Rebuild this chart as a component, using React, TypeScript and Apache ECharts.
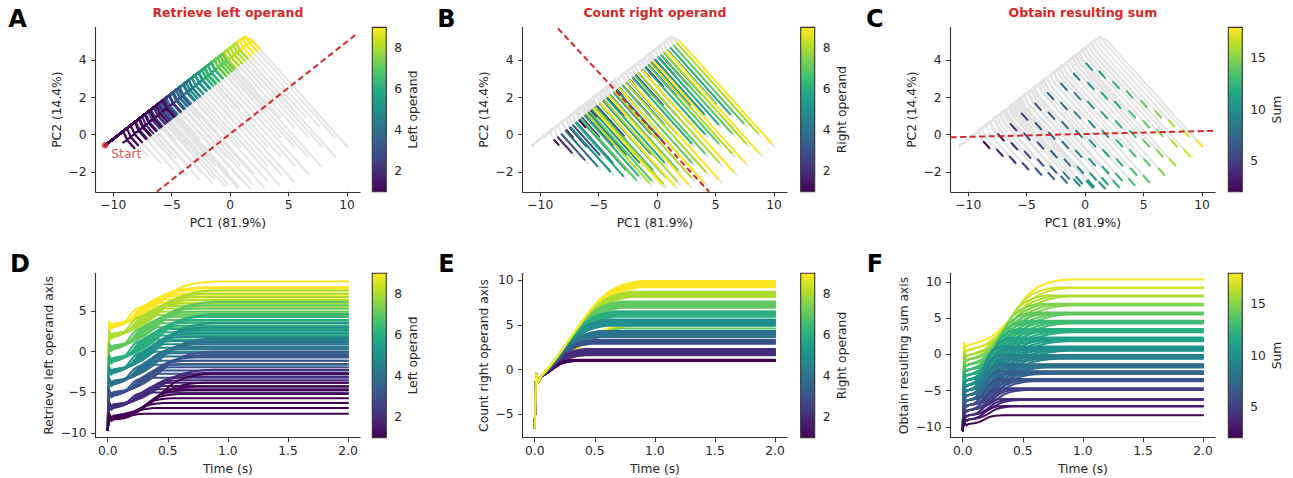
import React, { useEffect, useRef } from "react";
import * as echarts from "echarts";

// ---------------- styling constants ----------------
const FONT = "DejaVu Sans";
const INK = "#262626";
const SPINE = "#333333";
const RED = "#d62728";
const GREY = "#e4e4e4";
const VIRIDIS = ["#440154", "#482475", "#414487", "#355f8d", "#2a788e", "#21918c", "#22a884", "#44bf70", "#7ad151", "#bddf26", "#fde725"];

// ---------------- tick labels / categories ----------------
const OPERANDS = [1, 2, 3, 4, 5, 6, 7, 8, 9];
const PC_X_TICKS = [-10, -5, 0, 5, 10];
const PC_Y_TICKS = [-2, 0, 2, 4];
const TIME_TICKS = [0, 0.5, 1, 1.5, 2];
const D_TICKS = [-10, -5, 0, 5];
const E_TICKS = [-5, 0, 5, 10];
const F_TICKS = [-10, -5, 0, 5, 10];
const OPERAND_TICKS = [2, 4, 6, 8];
const SUM_TICKS = [5, 10, 15];

// ---------------- PCA panels (A–C): read anchors ----------------
const START = [-10.7, -0.57];
const APEX = [1.25, 5.28];
const ONSET = [[-8.77, -0.28], [-0.09, 4.05]]; // line along which counting starts
const COUNT_SLOPE = -0.7; // direction of the counting (right-operand) phase
const AXIS_A = [[-6.28, -3.07], [10.91, 5.46]];
const AXIS_B = [[-8.48, 5.72], [4.45, -3.07]];
const AXIS_C = [[-11.5, -0.14], [11.1, 0.21]];

// trajectory end points (centre of final dash in panel C), rows = left operand 1..9, cols = right operand 1..9
const END_X = [
  [-8.43, -7.3, -6.2, -5.1, -4.0, -2.9, -1.8, -0.7, 0.4],
  [-7.2, -6.05, -4.92, -3.8, -2.7, -1.6, -0.5, 0.5, 1.45],
  [-6.13, -4.97, -3.82, -2.67, -1.52, -0.4, 0.68, 1.7, 2.65],
  [-5.18, -4.0, -2.85, -1.7, -0.55, 0.6, 1.75, 2.9, 4.0],
  [-4.03, -2.88, -1.72, -0.52, 0.63, 1.79, 2.94, 4.15, 5.24],
  [-2.96, -1.81, -0.66, 0.58, 1.73, 2.94, 4.08, 5.3, 6.53],
  [-1.81, -0.66, 0.49, 1.64, 2.87, 4.08, 5.24, 6.39, 7.49],
  [-0.72, 0.49, 1.64, 2.79, 4.03, 5.24, 6.39, 7.6, 8.75],
  [0.35, 1.45, 2.65, 3.8, 5.04, 6.25, 7.4, 8.62, 9.78],
];
const END_Y = [
  [-0.55, -0.97, -1.35, -1.7, -1.98, -2.22, -2.42, -2.58, -2.68],
  [-0.14, -0.62, -1.08, -1.5, -1.88, -2.2, -2.45, -2.62, -2.72],
  [0.4, -0.1, -0.58, -1.05, -1.5, -1.9, -2.25, -2.5, -2.65],
  [0.97, 0.46, -0.05, -0.55, -1.03, -1.48, -1.9, -2.28, -2.55],
  [1.51, 1.02, 0.52, 0.04, -0.46, -1.0, -1.49, -1.99, -2.38],
  [2.08, 1.54, 1.06, 0.56, 0.04, -0.46, -1.0, -1.49, -1.99],
  [2.58, 2.08, 1.6, 1.06, 0.56, 0.04, -0.46, -1.0, -1.49],
  [3.12, 2.62, 2.1, 1.6, 1.1, 0.56, 0.08, -0.46, -1.0],
  [3.66, 3.24, 2.67, 2.17, 1.65, 1.1, 0.61, 0.08, -0.46],
];
const HOOK_DX = 0.35; // ridge point sits this far (PC1) before the counting onset
const CURL = [-0.35, -0.12]; // small curl below the onset point seen in panel A
const TOOTH = 0.75;   // start of counting shown in panel A
const TAIL = 0.3;     // half-length of the final dash

// ---------------- time panels (D–F): read values ----------------
const SPIKE_T = [0, 0.012, 0.03, 0.05];
const T_FINAL = 2.0;
const T_END = [0.33, 0.42, 0.48, 0.54, 0.6, 0.66, 0.72, 0.8, 0.88]; // settle time by right operand
const PROF_TAU = [0, 0.1, 0.2, 0.3, 0.4, 0.5, 0.6, 0.7, 0.8, 0.9, 1.0];
const PROF_DF = [0, 0.04, 0.1, 0.21, 0.37, 0.58, 0.78, 0.89, 0.95, 0.985, 1];
const PROF_E = [0, 0.12, 0.26, 0.41, 0.56, 0.7, 0.82, 0.9, 0.95, 0.98, 1];

const D_T0 = -9.6;
const D_START_A = [-8.3, -6.9, -5.4, -4.0, -2.6, -1.2, 0.3, 1.8, 3.0];
const D_START_B = [0, 0.06, 0.11, 0.17, 0.22, 0.27, 0.33, 0.38, 0.45];
const D_FINAL = [
  [-7.6, -6.9, -6.3, -5.7, -5.2, -4.7, -4.3, -3.8, -2.7],
  [-5.0, -4.6, -4.2, -3.8, -3.5, -3.1, -2.8, -2.6, -2.2],
  [-3.2, -2.7, -2.3, -1.9, -1.5, -1.1, -0.7, -0.4, 0.0],
  [-1.6, -1.1, -0.6, -0.2, 0.3, 0.6, 0.9, 1.2, 1.6],
  [0.0, 0.5, 0.9, 1.3, 1.8, 2.2, 2.6, 3.0, 3.5],
  [1.5, 2.0, 2.4, 2.8, 3.2, 3.6, 3.9, 4.3, 4.6],
  [3.0, 3.5, 3.9, 4.3, 4.6, 4.9, 5.3, 5.7, 6.1],
  [4.5, 4.9, 5.3, 5.6, 5.9, 6.3, 6.7, 7.1, 7.5],
  [5.6, 6.0, 6.4, 6.8, 7.1, 7.5, 7.8, 7.9, 8.6],
];

const E_T0 = -6.5;
const E_START = -0.8;
const E_FINAL = [
  [0.95, 1.6, 2.9, 3.6, 4.0, 4.3, 4.6, 4.9, 5.3],
  [0.97, 1.7, 2.95, 3.7, 4.9, 5.9, 6.9, 8.1, 9.2],
  [0.98, 1.8, 3.0, 3.8, 5.0, 6.0, 7.0, 8.2, 9.3],
  [1.0, 1.9, 3.05, 3.9, 5.1, 6.1, 7.1, 8.3, 9.4],
  [1.02, 2.0, 3.1, 4.0, 5.2, 6.2, 7.2, 8.4, 9.5],
  [1.04, 2.1, 3.15, 4.1, 5.3, 6.3, 7.3, 8.5, 9.6],
  [1.06, 2.15, 3.2, 4.2, 5.4, 6.4, 7.4, 8.6, 9.7],
  [1.08, 2.2, 3.25, 4.25, 5.5, 6.45, 7.5, 8.65, 9.8],
  [1.1, 2.3, 3.3, 4.3, 5.6, 6.5, 7.6, 8.7, 9.9],
];

const F_T0 = -10.5;
// indexed by sum 2..18
const F_START_SUM = [-9.6, -9.0, -8.4, -7.7, -7.0, -6.3, -5.6, -4.9, -4.2, -3.5, -2.8, -2.1, -1.4, -0.7, -0.1, 0.6, 1.3];
const F_SUM_LEVEL = [-8.1, -6.9, -6.0, -4.6, -3.4, -2.4, -1.5, -0.3, 0.8, 2.05, 3.2, 4.35, 5.5, 6.7, 7.85, 8.95, 10.05];
const F_OFF_A = [-0.3, -0.22, -0.15, -0.07, 0, 0.07, 0.15, 0.22, 0.3];

// ---------------- helpers ----------------
function hexRgb(h: string) {
  return [parseInt(h.slice(1, 3), 16), parseInt(h.slice(3, 5), 16), parseInt(h.slice(5, 7), 16)];
}
function viridis(t: number): string {
  const x = Math.max(0, Math.min(1, t)) * (VIRIDIS.length - 1);
  const i = Math.min(Math.floor(x), VIRIDIS.length - 2);
  const f = x - i;
  const c0 = hexRgb(VIRIDIS[i]);
  const c1 = hexRgb(VIRIDIS[i + 1]);
  const c = c0.map((v, k) => Math.round(v + (c1[k] - v) * f));
  return `rgb(${c[0]},${c[1]},${c[2]})`;
}
const opColor = (v: number) => viridis((v - 1) / 8);
const sumColor = (s: number) => viridis((s - 2) / 16);
const minus = (v: number) => String(v).replace("-", "\u2212");

// ---------------- trajectories ----------------
const ridgeSlope = (APEX[1] - START[1]) / (APEX[0] - START[0]);
const onsetSlope = (ONSET[1][1] - ONSET[0][1]) / (ONSET[1][0] - ONSET[0][0]);
const dirNorm = Math.hypot(1, COUNT_SLOPE);
const DIR = [1 / dirNorm, COUNT_SLOPE / dirNorm];
const along = (p: number[], k: number) => [p[0] + k * DIR[0], p[1] + k * DIR[1]];

type Traj = { a: number; b: number; i: number; j: number; Q: number[]; K: number[]; R: number[]; F: number[] };
const TRAJ: Traj[] = [];
OPERANDS.forEach((a, i) =>
  OPERANDS.forEach((b, j) => {
    const F = [END_X[i][j], END_Y[i][j]];
    const c = F[1] - COUNT_SLOPE * F[0];
    const rx = (c - ONSET[0][1] + onsetSlope * ONSET[0][0]) / (onsetSlope - COUNT_SLOPE);
    const R = [rx, c + COUNT_SLOPE * rx];
    const qx = Math.min(rx - HOOK_DX, APEX[0]);
    const Q = [qx, START[1] + ridgeSlope * (qx - START[0])];
    const K = [R[0] + CURL[0], R[1] + CURL[1]];
    TRAJ.push({ a, b, i, j, Q, K, R, F });
  })
);

function curve(v0: number, s: number, over: number, dip: number, end: number, tEnd: number, prof: number[]) {
  const pts = [
    [SPIKE_T[0], v0],
    [SPIKE_T[1], s + over],
    [SPIKE_T[2], s + dip],
    [SPIKE_T[3], s],
  ];
  for (let k = 1; k < PROF_TAU.length; k++) {
    pts.push([SPIKE_T[3] + PROF_TAU[k] * (tEnd - SPIKE_T[3]), s + prof[k] * (end - s)]);
  }
  pts.push([T_FINAL, end]);
  return pts;
}

// ---------------- layout ----------------
const COL_L = [95.7, 522.7, 950.7];
const PLOT_W = 264.4;
const ROW_T = [27.4, 273.3];
const PLOT_H = 164.4;
const CB_L = [372.3, 800.7, 1228.3];
const CB_W = 14;

const PC_XLIM = [-11.5, 11.12];
const PC_YLIM = [-3.07, 5.77];
const T_LIM = [-0.1, 2.1];
const D_YLIM = [-10.55, 9.62];
const E_YLIM = [-7.6, 10.75];
const F_YLIM = [-11.5, 11.2];

function buildOption() {
  const grids: any[] = [];
  const xAxes: any[] = [];
  const yAxes: any[] = [];
  const series: any[] = [];

  const textStyle = { fontFamily: FONT, fontSize: 12.3, color: INK };
  const mainX = (lim: number[], ticks: number[], name: string, fmt: (v: number) => string, idx: number) => ({
    type: "value", gridIndex: idx, min: lim[0], max: lim[1], position: "bottom",
    name, nameLocation: "middle", nameGap: 25, nameTextStyle: textStyle,
    splitLine: { show: false },
    axisLine: { show: true, onZero: false, lineStyle: { color: SPINE, width: 1.1 } },
    axisTick: { show: true, customValues: ticks, length: 4.5, lineStyle: { color: SPINE, width: 1 } },
    axisLabel: { customValues: ticks, formatter: fmt, margin: 7, ...textStyle },
  });
  const mainY = (lim: number[], ticks: number[], name: string, gap: number, idx: number) => ({
    type: "value", gridIndex: idx, min: lim[0], max: lim[1], position: "left",
    name, nameLocation: "middle", nameGap: gap, nameRotate: 90, nameTextStyle: textStyle,
    splitLine: { show: false },
    axisLine: { show: true, onZero: false, lineStyle: { color: SPINE, width: 1.1 } },
    axisTick: { show: true, customValues: ticks, length: 4.5, lineStyle: { color: SPINE, width: 1 } },
    axisLabel: { customValues: ticks, formatter: (v: number) => minus(v), margin: 9, ...textStyle },
  });

  for (let r = 0; r < 2; r++) {
    for (let c = 0; c < 3; c++) {
      grids.push({ left: COL_L[c], top: ROW_T[r], width: PLOT_W, height: PLOT_H, outerBoundsMode: "none", containLabel: false });
    }
  }
  for (let r = 0; r < 2; r++) {
    for (let c = 0; c < 3; c++) {
      grids.push({ left: CB_L[c], top: ROW_T[r], width: CB_W, height: PLOT_H, outerBoundsMode: "none", containLabel: false });
    }
  }

  const pcFmt = (v: number) => minus(v);
  const tFmt = (v: number) => v.toFixed(1);
  for (let c = 0; c < 3; c++) {
    xAxes.push(mainX(PC_XLIM, PC_X_TICKS, "PC1 (81.9%)", pcFmt, c));
    yAxes.push(mainY(PC_YLIM, PC_Y_TICKS, "PC2 (14.4%)", 33, c));
  }
  xAxes.push(mainX(T_LIM, TIME_TICKS, "Time (s)", tFmt, 3));
  yAxes.push(mainY(D_YLIM, D_TICKS, "Retrieve left operand axis", 41, 3));
  xAxes.push(mainX(T_LIM, TIME_TICKS, "Time (s)", tFmt, 4));
  yAxes.push(mainY(E_YLIM, E_TICKS, "Count right operand axis", 33, 4));
  xAxes.push(mainX(T_LIM, TIME_TICKS, "Time (s)", tFmt, 5));
  yAxes.push(mainY(F_YLIM, F_TICKS, "Obtain resulting sum axis", 41, 5));

  const cbDefs = [
    { name: "Left operand", min: 1, max: 9, ticks: OPERAND_TICKS, gap: 21 },
    { name: "Right operand", min: 1, max: 9, ticks: OPERAND_TICKS, gap: 21 },
    { name: "Sum", min: 2, max: 18, ticks: SUM_TICKS, gap: 29 },
  ];
  const gradient = () =>
    new echarts.graphic.LinearGradient(0, 1, 0, 0, VIRIDIS.map((col, k) => ({ offset: k / (VIRIDIS.length - 1), color: col })));
  for (let r = 0; r < 2; r++) {
    for (let c = 0; c < 3; c++) {
      const idx = 6 + r * 3 + c;
      const d = cbDefs[c];
      xAxes.push({ type: "value", gridIndex: idx, min: 0, max: 1, show: false });
      yAxes.push({
        type: "value", gridIndex: idx, min: d.min, max: d.max, position: "right",
        name: d.name, nameLocation: "middle", nameGap: d.gap, nameRotate: 90, nameTextStyle: textStyle,
        splitLine: { show: false }, axisLine: { show: false },
        axisTick: { show: true, customValues: d.ticks, length: 4.5, lineStyle: { color: SPINE, width: 1 } },
        axisLabel: { customValues: d.ticks, margin: 8, ...textStyle },
      });
      series.push({
        type: "custom", xAxisIndex: idx, yAxisIndex: idx, silent: true, clip: false,
        data: [[0, d.min]],
        renderItem: (_p: any, api: any) => {
          const p0 = api.coord([0, d.min]);
          const p1 = api.coord([1, d.max]);
          return {
            type: "rect",
            shape: { x: p0[0], y: p1[1], width: p1[0] - p0[0], height: p0[1] - p1[1] },
            style: { fill: gradient(), stroke: SPINE, lineWidth: 1.1 },
          };
        },
      });
    }
  }

  const linesSeries = (idx: number, data: any[], width = 2, z = 2) => ({
    type: "lines", coordinateSystem: "cartesian2d", xAxisIndex: idx, yAxisIndex: idx,
    polyline: true, silent: true, z, animation: false,
    lineStyle: { width, opacity: 1, color: GREY, cap: "round", join: "round" },
    data,
  });

  // ---- PCA panels ----
  const greyData = TRAJ.map((t) => ({ coords: [START, t.Q, t.R, along(t.F, TAIL)] }));
  for (let c = 0; c < 3; c++) series.push(linesSeries(c, greyData, 2, 2));

  const leftData = [...TRAJ]
    .sort((p, q) => q.a - p.a || p.b - q.b)
    .map((t) => ({ coords: [START, t.Q, t.R, t.K, t.R, along(t.R, TOOTH)], lineStyle: { color: opColor(t.a) } }));
  series.push(linesSeries(0, leftData, 2.2, 3));

  const rightData = [...TRAJ]
    .sort((p, q) => p.b - q.b || p.a - q.a)
    .map((t) => ({ coords: [t.R, t.F], lineStyle: { color: opColor(t.b) } }));
  series.push(linesSeries(1, rightData, 2, 3));

  const sumData = TRAJ.map((t) => ({ coords: [along(t.F, -TAIL), along(t.F, TAIL)], lineStyle: { color: sumColor(t.a + t.b) } }));
  series.push(linesSeries(2, sumData, 2, 3));

  [AXIS_A, AXIS_B, AXIS_C].forEach((ax, c) =>
    series.push({
      type: "line", xAxisIndex: c, yAxisIndex: c, data: ax, showSymbol: false, silent: true, z: 5,
      lineStyle: { color: RED, width: 2, type: [6, 3.5] },
    })
  );
  series.push({
    type: "scatter", xAxisIndex: 0, yAxisIndex: 0, data: [START], symbolSize: 6.5, z: 6, silent: true,
    itemStyle: { color: RED },
    label: { show: true, formatter: "Start", position: "right", distance: 3, offset: [0, 9], color: RED, fontFamily: FONT, fontSize: 12.3 },
  });

  // ---- time panels ----
  const dData = [...TRAJ]
    .sort((p, q) => q.a - p.a || q.b - p.b)
    .map((t) => ({
      coords: curve(D_T0, D_START_A[t.i] + D_START_B[t.j], 0.25, -0.2, D_FINAL[t.i][t.j], T_END[t.j], PROF_DF),
      lineStyle: { color: opColor(t.a) },
    }));
  series.push(linesSeries(3, dData, 2, 3));

  const eData = [...TRAJ]
    .sort((p, q) => p.a - q.a || p.b - q.b)
    .map((t) => ({
      coords: curve(E_T0, E_START, 0.4, -0.6, E_FINAL[t.i][t.j], T_END[t.j], PROF_E),
      lineStyle: { color: opColor(t.b) },
    }));
  series.push(linesSeries(4, eData, 2, 3));

  const fData = [...TRAJ]
    .sort((p, q) => q.a + q.b - (p.a + p.b) || q.a - p.a)
    .map((t) => {
      const s = t.a + t.b;
      return {
        coords: curve(F_T0, F_START_SUM[s - 2], 0.35, -0.2, F_SUM_LEVEL[s - 2] + F_OFF_A[t.i], T_END[t.j], PROF_DF),
        lineStyle: { color: sumColor(s) },
      };
    });
  series.push(linesSeries(5, fData, 2, 3));

  // ---- texts ----
  const titles = [
    { text: "Retrieve left operand", x: COL_L[0] + PLOT_W / 2 },
    { text: "Count right operand", x: COL_L[1] + PLOT_W / 2 },
    { text: "Obtain resulting sum", x: COL_L[2] + PLOT_W / 2 },
  ];
  const letters = [
    { text: "A", x: 8.3, y: 18.5 },
    { text: "B", x: 437.3, y: 18.5 },
    { text: "C", x: 866, y: 18.5 },
    { text: "D", x: 10, y: 264 },
    { text: "E", x: 438.3, y: 264 },
    { text: "F", x: 866.7, y: 264 },
  ];
  const graphic: any[] = [
    ...titles.map((t) => ({
      type: "text", x: t.x, y: 12.7, silent: true,
      style: { text: t.text, fill: RED, fontFamily: FONT, fontSize: 12.5, fontWeight: "bold", align: "center", verticalAlign: "middle" },
    })),
    ...letters.map((l) => ({
      type: "text", x: l.x, y: l.y, silent: true,
      style: { text: l.text, fill: "#000", fontFamily: FONT, fontSize: 24, fontWeight: "bold", align: "left", verticalAlign: "middle" },
    })),
  ];

  return {
    animation: false,
    backgroundColor: "#ffffff",
    textStyle: { fontFamily: FONT },
    grid: grids,
    xAxis: xAxes,
    yAxis: yAxes,
    series,
    graphic,
  };
}

export default function App() {
  const ref = useRef<HTMLDivElement | null>(null);
  useEffect(() => {
    if (!ref.current) return;
    const chart = echarts.init(ref.current, null, { renderer: "svg" });
    chart.setOption(buildOption() as any);
    return () => chart.dispose();
  }, []);
  return <div ref={ref} style={{ position: "absolute", left: 0, top: 0, width: 1293, height: 478, background: "#fff" }} />;
}
